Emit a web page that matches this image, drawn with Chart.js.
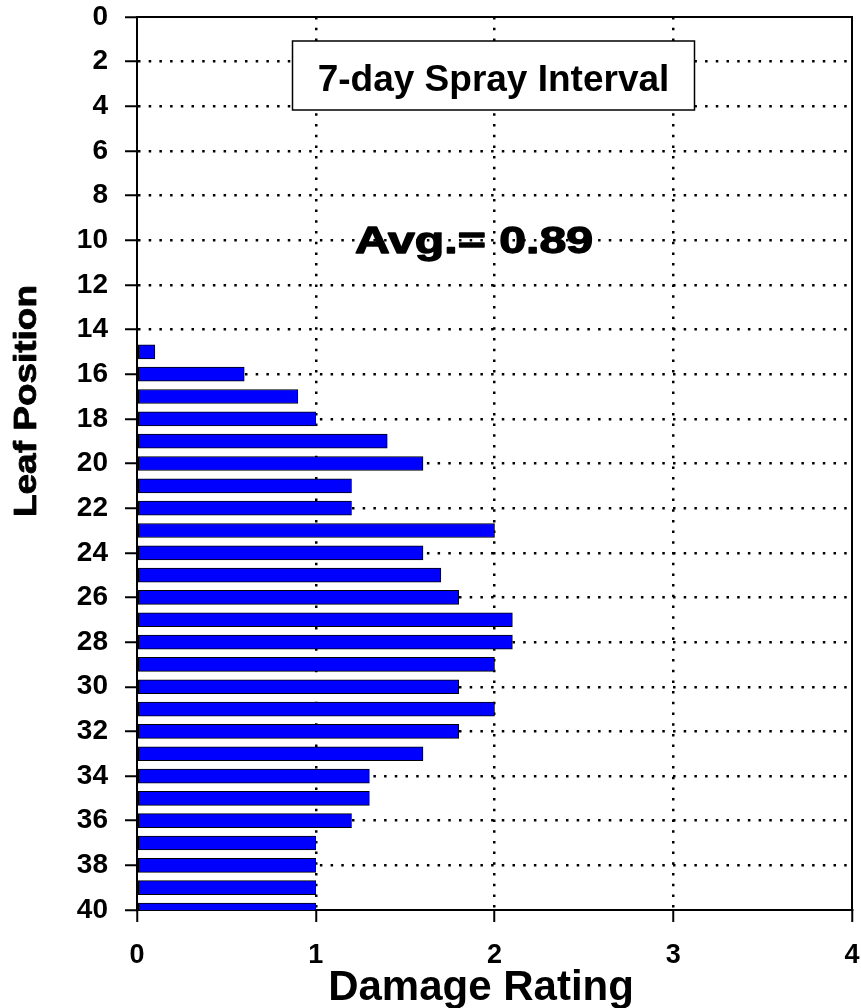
<!DOCTYPE html>
<html>
<head>
<meta charset="utf-8">
<script src="https://cdn.jsdelivr.net/npm/chart.js@4/dist/chart.umd.min.js"></script>
<style>
html,body{margin:0;padding:0;background:#fff;}
#wrap{width:861px;height:1008px;position:relative;}
</style>
</head>
<body>
<div id="wrap"><canvas id="c" width="861" height="1008"></canvas></div>
<script>
// ---- data ----
const leafPositions = [15,16,17,18,19,20,21,22,23,24,25,26,27,28,29,30,31,32,33,34,35,36,37,38,39,40];
const damageRatings = [0.1,0.6,0.9,1.0,1.4,1.6,1.2,1.2,2.0,1.6,1.7,1.8,2.1,2.1,2.0,1.8,2.0,1.8,1.6,1.3,1.3,1.2,1.0,1.0,1.0,1.0];
const xTickValues = [0,1,2,3,4];
const yTickValues = [0,2,4,6,8,10,12,14,16,18,20,22,24,26,28,30,32,34,36,38,40];
const boxTitle = '7-day Spray Interval';
const avgLabel = 'Avg.= 0.89';
const xTitle = 'Damage Rating';
const yTitle = 'Leaf Position';

const FONT = '"Liberation Sans", Arial, Helvetica, sans-serif';

function drawStretched(ctx, text, cx, baseY, font, targetW, strokeW) {
  ctx.save();
  ctx.font = font + ' ' + FONT;
  const w = ctx.measureText(text).width;
  const s = targetW / w;
  ctx.translate(cx, baseY);
  ctx.scale(s, 1);
  ctx.textAlign = 'center';
  ctx.textBaseline = 'alphabetic';
  ctx.fillStyle = '#000';
  ctx.fillText(text, 0, 0);
  if (strokeW) {
    ctx.strokeStyle = '#000';
    ctx.lineWidth = strokeW;
    ctx.lineJoin = 'round';
    ctx.strokeText(text, 0, 0);
  }
  ctx.restore();
}

const annotations = {
  id: 'annotations',
  afterDraw(chart) {
    const ctx = chart.ctx;
    const a = chart.chartArea;
    ctx.save();
    // frame (top and right)
    ctx.strokeStyle = '#000';
    ctx.lineWidth = 2;
    ctx.beginPath();
    ctx.moveTo(a.left - 1, a.top);
    ctx.lineTo(a.right, a.top);
    ctx.lineTo(a.right, a.bottom);
    ctx.stroke();
    // title box
    ctx.fillStyle = '#fff';
    ctx.fillRect(292, 41, 403, 69);
    ctx.lineWidth = 1.5;
    ctx.strokeRect(292.5, 41, 402, 69);
    ctx.fillStyle = '#000';
    ctx.font = 'bold 37px ' + FONT;
    ctx.textAlign = 'center';
    ctx.textBaseline = 'alphabetic';
    ctx.fillText(boxTitle, 493.5, 91);
    // average label
    drawStretched(ctx, avgLabel, 474, 253, 'bold 37px', 238, 1.3);
    // x axis title
    ctx.font = 'bold 42px ' + FONT;
    ctx.fillText(xTitle, 481, 1000);
    // y axis title
    ctx.translate(36, 401);
    ctx.rotate(-Math.PI / 2);
    drawStretched(ctx, yTitle, 0, 0, 'bold 31px', 232, 0.8);
    ctx.restore();
  }
};

const edge = (vals) => (c) => (c.tick && (c.tick.value === vals[0] || c.tick.value === vals[1])) ? 'rgba(0,0,0,0)' : '#000';

new Chart(document.getElementById('c'), {
  type: 'bar',
  data: {
    datasets: [{
      data: leafPositions.map((p, i) => ({ x: damageRatings[i], y: p })),
      backgroundColor: '#0000FF',
      borderColor: '#000',
      borderWidth: 1,
      borderSkipped: false,
      barThickness: 14,
      clip: 0
    }]
  },
  options: {
    indexAxis: 'y',
    responsive: false,
    animation: false,
    devicePixelRatio: 1,
    layout: { padding: { top: 17, right: 9, bottom: 0, left: 0 } },
    plugins: { legend: { display: false }, tooltip: { enabled: false }, title: { display: false } },
    scales: {
      x: {
        type: 'linear',
        position: 'bottom',
        min: 0, max: 4,
        offset: false,
        afterBuildTicks: s => { s.ticks = xTickValues.map(v => ({ value: v })); },
        afterFit: s => { s.height = 98; s.paddingLeft = 0; s.paddingRight = 0; },
        ticks: { color: '#000', font: { family: FONT, size: 27, weight: 'bold' }, padding: 17, maxRotation: 0 },
        grid: { offset: false, color: edge([0, 4]), lineWidth: 2.5, tickColor: '#000', tickWidth: 2, tickLength: 12 },
        border: { display: true, color: '#000', width: 2, dash: [2.5, 8.2] },
        title: { display: false }
      },
      y: {
        type: 'linear',
        position: 'left',
        min: 0, max: 40,
        reverse: true,
        offset: false,
        afterBuildTicks: s => { s.ticks = yTickValues.map(v => ({ value: v })); },
        afterFit: s => { s.width = 137; s.paddingTop = 0; s.paddingBottom = 0; },
        ticks: { color: '#000', font: { family: FONT, size: 28, weight: 'bold' }, padding: 17 },
        grid: { offset: false, color: edge([0, 40]), lineWidth: 2.5, tickColor: '#000', tickWidth: 2, tickLength: 12 },
        border: { display: true, color: '#000', width: 2, dash: [2.5, 8.2] },
        title: { display: false }
      }
    }
  },
  plugins: [annotations]
});
</script>
</body>
</html>
